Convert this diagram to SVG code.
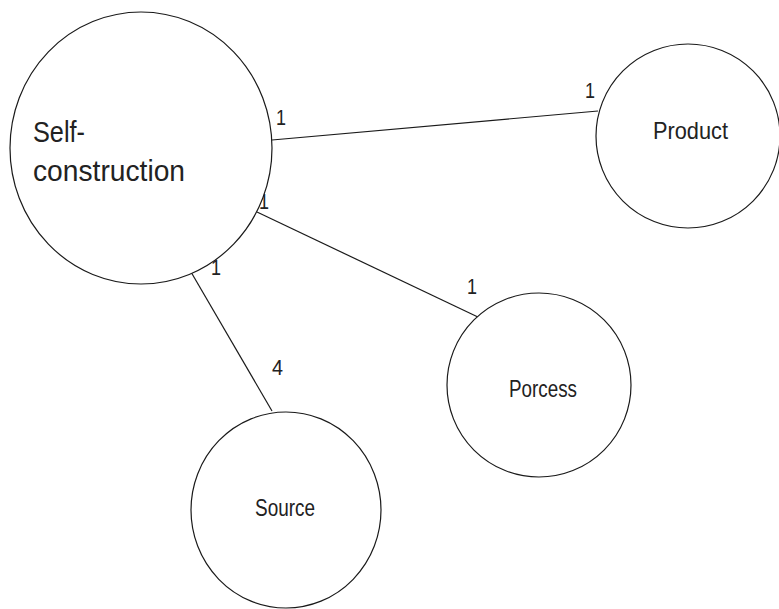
<svg xmlns="http://www.w3.org/2000/svg" width="779" height="609" viewBox="0 0 779 609">
  <style>
    .node { fill: #ffffff; stroke: #1a1a1a; stroke-width: 1.2; }
    .edge { stroke: #1a1a1a; stroke-width: 1.2; fill: none; }
    .label { font-family: "Liberation Sans", Arial, sans-serif; fill: #222222; }
    .mult { font-family: "Liberation Sans", Arial, sans-serif; font-size: 22px; fill: #222222; }
  </style>
  <rect width="779" height="609" fill="#ffffff"/>

  <!-- connectors -->
  <g id="connectors">
    <line class="edge" x1="272" y1="140" x2="598" y2="111"/>
    <line class="edge" x1="257" y1="212" x2="480" y2="318"/>
    <line class="edge" x1="191" y1="272" x2="272" y2="411"/>
  </g>

  <!-- multiplicities -->
  <g id="multiplicities">
    <text class="mult" x="276" y="125" textLength="10" lengthAdjust="spacingAndGlyphs">1</text>
    <text class="mult" x="585" y="98" textLength="10" lengthAdjust="spacingAndGlyphs">1</text>
    <text class="mult" x="259" y="209" textLength="10" lengthAdjust="spacingAndGlyphs">1</text>
    <text class="mult" x="467" y="294" textLength="10" lengthAdjust="spacingAndGlyphs">1</text>
    <text class="mult" x="211" y="275" textLength="10" lengthAdjust="spacingAndGlyphs">1</text>
    <text class="mult" x="272" y="375" textLength="11" lengthAdjust="spacingAndGlyphs">4</text>
  </g>

  <g id="self-construction">
    <ellipse class="node" cx="141" cy="148" rx="131" ry="136"/>
    <text class="label" font-size="30" x="33" y="142" textLength="52" lengthAdjust="spacingAndGlyphs">Self-</text>
    <text class="label" font-size="30" x="33" y="181" textLength="152" lengthAdjust="spacingAndGlyphs">construction</text>
  </g>

  <g id="product">
    <circle class="node" cx="688" cy="136" r="92"/>
    <text class="label" font-size="24" x="653" y="139" textLength="75" lengthAdjust="spacingAndGlyphs">Product</text>
  </g>

  <g id="porcess">
    <circle class="node" cx="539" cy="385" r="92"/>
    <text class="label" font-size="24" x="509" y="397" textLength="68" lengthAdjust="spacingAndGlyphs">Porcess</text>
  </g>

  <g id="source">
    <ellipse class="node" cx="286" cy="510" rx="95" ry="98"/>
    <text class="label" font-size="24" x="255" y="516" textLength="60" lengthAdjust="spacingAndGlyphs">Source</text>
  </g>
</svg>
